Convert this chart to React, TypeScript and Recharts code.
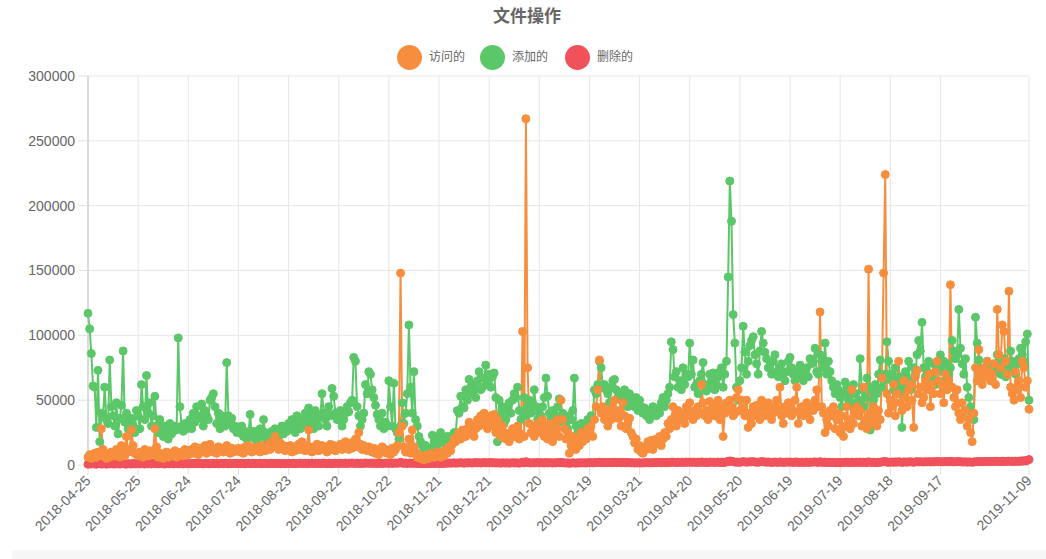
import React from 'react';
import { LineChart, Line, XAxis, YAxis, CartesianGrid } from 'recharts';

// daily series, in thousands, starting 2018-04-25 (one row ~ 30 days)
const visited = [
  6, 8, 5, 7, 9, 6, 10, 8, 28, 12, 7, 5, 8, 6, 10, 9, 7, 12, 8, 6, 15, 9, 7, 22, 10, 12, 27, 15, 9, 8,
  7, 10, 8, 6, 12, 9, 7, 11, 8, 10, 28, 14, 6, 9, 7, 5, 8, 10, 6, 9, 7, 8, 11, 6, 9, 8, 10, 7, 12, 9,
  8, 10, 12, 9, 14, 11, 8, 13, 10, 12, 15, 9, 11, 16, 13, 10, 12, 9, 14, 11, 13, 10, 12, 15, 11, 9, 13, 10, 12, 11,
  13, 10, 12, 9, 14, 11, 15, 12, 10, 13, 11, 14, 12, 10, 15, 13, 11, 14, 16, 12, 18, 15, 22, 14, 12, 17, 13, 15, 11, 14,
  12, 15, 10, 14, 11, 13, 16, 12, 18, 14, 11, 15, 27, 13, 10, 14, 12, 16, 11, 13, 15, 12, 14, 10, 13, 16, 12, 15, 11, 14,
  13, 16, 12, 15, 18, 14, 12, 17, 13, 15, 20, 14, 25, 16, 12, 15, 13, 11, 14, 12, 10, 13, 9, 12, 8, 11, 14, 10, 12, 9,
  11, 8, 13, 10, 12, 15, 25, 148, 30, 14, 10, 12, 20, 9, 27, 14, 10, 6, 8, 5, 7, 4, 6, 8, 5, 7, 9, 6, 8, 10,
  8, 6, 10, 7, 12, 9, 14, 11, 16, 20, 18, 22, 25, 20, 27, 24, 22, 28, 33, 25, 30, 22, 28, 35, 30, 38, 32, 40, 35, 28,
  32, 38, 30, 39, 25, 35, 28, 22, 30, 25, 20, 22, 18, 25, 28, 22, 25, 30, 20, 24, 103, 22, 267, 75, 32, 25, 30, 22, 28, 32,
  28, 25, 35, 22, 30, 20, 25, 32, 18, 24, 28, 35, 22, 50, 35, 28, 20, 25, 9, 15, 22, 18, 12, 20, 15, 25, 18, 22, 20, 28,
  25, 30, 22, 35, 45, 58, 81, 40, 45, 35, 38, 30, 42, 35, 45, 50, 40, 36, 42, 30, 48, 38, 28, 32, 36, 25, 22, 17, 20, 12,
  15, 10, 9, 14, 12, 18, 15, 19, 12, 16, 20, 18, 22, 15, 20, 25, 22, 32, 28, 35, 45, 37, 30, 42, 38, 35, 40, 32, 45, 38,
  48, 40, 35, 42, 38, 45, 40, 62, 48, 38, 42, 35, 49, 40, 45, 38, 42, 50, 35, 45, 22, 40, 48, 42, 50, 45, 38, 40, 52, 58,
  42, 50, 45, 38, 50, 29, 40, 32, 45, 38, 46, 42, 35, 50, 45, 38, 40, 48, 42, 35, 40, 45, 50, 42, 60, 38, 32, 45, 40, 48,
  45, 38, 42, 50, 60, 32, 40, 45, 38, 42, 48, 40, 35, 45, 42, 50, 58, 45, 118, 45, 40, 25, 35, 30, 42, 38, 45, 28, 35, 40,
  25, 38, 22, 30, 45, 35, 28, 58, 32, 40, 45, 38, 42, 30, 60, 35, 28, 151, 40, 32, 45, 38, 30, 42, 35, 67, 148, 224, 55, 40,
  50, 45, 62, 38, 55, 80, 48, 42, 65, 52, 45, 58, 62, 50, 29, 68, 73, 55, 60, 48, 52, 65, 58, 70, 45, 62, 55, 72, 80, 65,
  55, 62, 48, 70, 58, 65, 139, 60, 52, 45, 58, 40, 35, 48, 38, 42, 30, 35, 25, 18, 40, 75, 65, 89, 70, 62, 75, 68, 80, 72,
  65, 70, 78, 62, 120, 85, 75, 108, 103, 80, 70, 134, 60, 55, 50, 72, 58, 65, 52, 80, 75, 60, 65, 43,
];

const added = [
  117, 105, 86, 61, 60, 29, 73, 18, 40, 38, 60, 35, 32, 81, 45, 38, 30, 48, 24, 36, 46, 88, 33, 40, 28, 32, 36, 30, 25, 42,
  38, 28, 62, 45, 35, 69, 40, 48, 30, 38, 53, 30, 25, 35, 28, 22, 30, 26, 20, 32, 24, 28, 30, 27, 98, 45, 30, 26, 32, 28,
  30, 35, 28, 40, 33, 45, 38, 36, 47, 30, 42, 38, 35, 50, 52, 55, 45, 32, 40, 28, 38, 35, 30, 79, 38, 32, 36, 28, 30, 25,
  28, 25, 30, 22, 26, 20, 24, 39, 22, 26, 20, 18, 24, 28, 22, 35, 25, 20, 22, 18, 26, 24, 28, 20, 22, 27, 30, 24, 28, 26,
  32, 28, 35, 30, 25, 38, 33, 28, 35, 30, 40, 36, 44, 32, 38, 28, 42, 35, 30, 38, 55, 40, 35, 30, 45, 38, 59, 53, 40, 35,
  38, 42, 30, 35, 40, 45, 41, 48, 50, 83, 80, 45, 38, 30, 35, 40, 62, 55, 72, 70, 58, 52, 46, 39, 35, 30, 40, 28, 33, 30,
  65, 45, 30, 63, 28, 25, 20, 30, 48, 32, 40, 55, 108, 60, 40, 72, 35, 30, 22, 18, 15, 12, 15, 10, 13, 12, 23, 18, 20, 15,
  22, 25, 18, 20, 15, 22, 20, 22, 18, 25, 24, 42, 40, 53, 45, 44, 58, 50, 66, 60, 55, 62, 52, 65, 72, 58, 60, 67, 77, 62,
  70, 60, 68, 71, 52, 18, 50, 39, 45, 32, 35, 42, 48, 40, 50, 55, 52, 60, 42, 35, 40, 52, 38, 45, 50, 40, 48, 58, 45, 35,
  40, 38, 45, 52, 67, 53, 40, 35, 42, 30, 38, 45, 51, 35, 40, 32, 30, 28, 38, 35, 42, 67, 30, 25, 28, 32, 20, 25, 29, 35,
  30, 38, 35, 58, 55, 62, 80, 75, 60, 62, 58, 55, 48, 60, 65, 66, 58, 52, 55, 50, 48, 58, 52, 45, 55, 50, 48, 45, 52, 42,
  50, 45, 40, 44, 38, 42, 35, 40, 45, 42, 38, 44, 40, 48, 52, 45, 50, 55, 60, 95, 89, 68, 72, 60, 65, 58, 75, 62, 70, 68,
  94, 70, 81, 60, 62, 55, 65, 70, 79, 62, 57, 60, 70, 65, 71, 58, 62, 68, 72, 75, 60, 70, 80, 145, 219, 188, 116, 94, 60, 50,
  65, 75, 107, 87, 70, 80, 92, 96, 99, 85, 78, 70, 88, 103, 94, 87, 82, 75, 77, 70, 80, 85, 72, 68, 75, 78, 70, 65, 72, 80,
  83, 75, 70, 65, 72, 68, 77, 70, 65, 72, 75, 68, 82, 78, 80, 90, 72, 70, 85, 80, 75, 94, 70, 80, 72, 65, 60, 55, 62, 58,
  52, 45, 55, 64, 60, 50, 58, 48, 62, 55, 45, 50, 82, 58, 45, 52, 67, 60, 27, 58, 50, 62, 55, 70, 81, 60, 65, 70, 95, 80,
  70, 65, 58, 75, 62, 55, 68, 29, 60, 72, 65, 80, 58, 66, 75, 70, 85, 96, 88, 110, 75, 68, 72, 80, 65, 70, 78, 62, 75, 80,
  85, 72, 80, 65, 78, 70, 75, 96, 88, 82, 85, 120, 90, 78, 70, 82, 60, 52, 45, 40, 35, 114, 94, 81, 75, 70, 68, 72, 80, 75,
  65, 70, 78, 72, 85, 80, 70, 75, 82, 68, 72, 78, 88, 80, 75, 70, 78, 82, 90, 85, 80, 95, 101, 50,
];

const deleted = [
  0.6, 0.9, 0.7, 1.0, 0.8, 0.6, 0.9, 1.1, 0.7, 0.8, 1.0, 0.6, 0.9, 0.8, 1.2, 0.7, 0.9, 0.8, 1.0, 0.7, 0.9, 1.1, 0.8, 0.6, 1.0, 0.9, 0.7, 1.2, 0.8, 0.9,
  1.0, 0.8, 1.1, 0.9, 0.7, 1.2, 0.9, 1.0, 0.8, 1.3, 0.9, 1.1, 0.8, 1.0, 1.2, 0.9, 0.7, 1.1, 1.0, 0.9, 1.2, 0.8, 1.0, 1.1, 0.9, 1.3, 1.0, 0.8, 1.1, 0.9,
  1.1, 0.9, 1.2, 1.0, 1.3, 0.9, 1.1, 1.0, 1.2, 0.8, 1.1, 1.3, 1.0, 0.9, 1.2, 1.1, 1.0, 1.4, 0.9, 1.1, 1.2, 1.0, 1.3, 1.1, 0.9, 1.2, 1.0, 1.1, 1.3, 1.0,
  1.2, 1.0, 1.3, 1.1, 0.9, 1.2, 1.4, 1.0, 1.1, 1.3, 1.0, 1.2, 1.1, 1.4, 0.9, 1.2, 1.3, 1.0, 1.1, 1.2, 1.4, 1.0, 1.3, 1.1, 1.2, 0.9, 1.3, 1.1, 1.0, 1.2,
  1.3, 1.1, 1.2, 1.4, 1.0, 1.3, 1.2, 1.5, 1.1, 1.2, 1.4, 1.0, 1.3, 1.2, 1.5, 1.1, 1.3, 1.2, 1.4, 1.1, 1.3, 1.5, 1.2, 1.0, 1.4, 1.3, 1.1, 1.2, 1.5, 1.3,
  1.2, 1.4, 1.3, 1.1, 1.5, 1.2, 1.4, 1.3, 1.6, 1.2, 1.3, 1.5, 1.1, 1.4, 1.3, 1.2, 1.6, 1.4, 1.3, 1.5, 1.2, 1.4, 1.3, 1.1, 1.5, 1.4, 1.2, 1.3, 1.6, 1.4,
  1.3, 1.5, 1.2, 1.4, 1.6, 1.3, 1.5, 2.1, 1.4, 1.3, 1.6, 1.2, 1.5, 1.4, 1.3, 1.5, 1.2, 1.4, 1.1, 1.3, 1.2, 1.0, 1.3, 1.1, 1.2, 1.4, 1.1, 1.3, 1.2, 1.4,
  1.3, 1.1, 1.4, 1.2, 1.5, 1.3, 1.6, 1.4, 1.5, 1.7, 1.4, 1.6, 1.5, 1.8, 1.6, 1.4, 1.7, 1.5, 1.8, 1.6, 1.5, 1.7, 1.9, 1.6, 1.8, 1.5, 1.7, 1.9, 1.6, 1.8,
  1.7, 1.9, 1.6, 1.8, 1.5, 1.7, 1.6, 1.4, 1.8, 1.6, 1.5, 1.7, 1.4, 1.6, 1.8, 1.5, 1.7, 1.6, 1.4, 1.7, 2.2, 1.6, 2.6, 1.9, 1.7, 1.5, 1.8, 1.6, 1.7, 1.9,
  1.6, 1.8, 1.7, 1.5, 1.9, 1.6, 1.8, 1.7, 1.5, 1.8, 1.6, 1.9, 1.7, 2.0, 1.8, 1.6, 1.5, 1.7, 1.3, 1.5, 1.7, 1.6, 1.4, 1.7, 1.5, 1.8, 1.6, 1.7, 1.5, 1.8,
  1.7, 1.9, 1.6, 1.8, 2.0, 1.9, 2.2, 1.8, 2.0, 1.7, 1.9, 1.8, 2.0, 1.7, 1.9, 2.1, 1.8, 1.9, 2.0, 1.7, 2.0, 1.8, 1.7, 1.9, 1.8, 1.6, 1.8, 1.5, 1.7, 1.6,
  1.7, 1.5, 1.6, 1.8, 1.7, 1.9, 1.6, 1.8, 1.7, 1.9, 1.8, 2.0, 1.9, 1.7, 2.0, 1.9, 1.8, 2.1, 1.9, 2.2, 2.3, 2.0, 1.9, 2.2, 2.0, 2.1, 2.2, 1.9, 2.3, 2.1,
  2.3, 2.0, 2.2, 2.1, 1.9, 2.2, 2.0, 2.4, 2.1, 2.0, 2.2, 1.9, 2.3, 2.1, 2.2, 2.0, 2.1, 2.3, 1.9, 2.2, 1.8, 2.1, 2.3, 2.8, 3.1, 2.9, 2.5, 2.3, 2.1, 2.2,
  2.1, 2.3, 2.6, 2.4, 2.2, 2.3, 2.5, 2.4, 2.6, 2.3, 2.2, 2.1, 2.4, 2.6, 2.5, 2.3, 2.2, 2.4, 2.1, 2.0, 2.2, 2.3, 2.1, 2.0, 2.4, 2.2, 2.0, 2.1, 2.3, 2.2,
  2.3, 2.1, 2.0, 2.2, 2.4, 1.9, 2.1, 2.2, 2.0, 2.1, 2.3, 2.0, 2.2, 2.1, 2.3, 2.4, 2.2, 2.0, 2.6, 2.1, 2.0, 2.3, 1.9, 2.1, 2.0, 1.9, 2.1, 1.8, 2.0, 1.9,
  1.8, 2.0, 1.9, 2.1, 2.2, 2.0, 1.9, 2.2, 2.0, 2.1, 2.2, 2.0, 2.3, 1.9, 2.2, 2.0, 1.9, 2.5, 2.1, 2.0, 2.2, 2.0, 1.9, 2.1, 2.2, 2.3, 2.6, 2.8, 2.2, 2.1,
  2.2, 2.3, 2.1, 2.4, 2.2, 2.5, 2.3, 2.0, 2.4, 2.3, 2.2, 2.4, 2.5, 2.3, 2.1, 2.4, 2.6, 2.3, 2.5, 2.4, 2.3, 2.5, 2.4, 2.6, 2.3, 2.5, 2.4, 2.6, 2.7, 2.5,
  2.6, 2.4, 2.5, 2.7, 2.5, 2.6, 2.9, 2.5, 2.4, 2.6, 2.5, 2.7, 2.5, 2.4, 2.3, 2.5, 2.2, 2.4, 2.3, 2.1, 2.3, 2.6, 2.5, 2.7, 2.6, 2.5, 2.7, 2.6, 2.8, 2.7,
  2.6, 2.8, 2.7, 2.9, 2.8, 2.7, 2.6, 2.9, 2.8, 2.7, 2.9, 3.0, 2.8, 2.9, 2.7, 3.0, 2.9, 2.8, 3.1, 3.0, 3.2, 3.3, 3.6, 4.2,
];

const xTicks = [
  '2018-04-25', '2018-05-25', '2018-06-24', '2018-07-24', '2018-08-23', '2018-09-22', '2018-10-22',
  '2018-11-21', '2018-12-21', '2019-01-20', '2019-02-19', '2019-03-21', '2019-04-20', '2019-05-20',
  '2019-06-19', '2019-07-19', '2019-08-18', '2019-09-17', '2019-11-09',
];
const yTicks = [0, 50000, 100000, 150000, 200000, 250000, 300000];

const ORANGE = '#F78E3D';
const GREEN = '#5BC768';
const RED = '#F0515B';
const FONT = '"Liberation Sans", Arial, "Noto Sans CJK SC", sans-serif';

const dayLabel = (i: number) => new Date(Date.UTC(2018, 3, 25 + i)).toISOString().slice(0, 10);

const chartData = visited.map((v, i) => ({
  date: dayLabel(i),
  visited: v * 1000,
  added: added[i] * 1000,
  deleted: deleted[i] * 1000,
}));

const legendItems = [
  { name: '访问的', color: ORANGE, cx: 409, tx: 430 },
  { name: '添加的', color: GREEN, cx: 492, tx: 513 },
  { name: '删除的', color: RED, cx: 577, tx: 598 },
];

const DateTick = ({ x, y, payload }: any) => (
  <text
    x={x}
    y={y + 1}
    dy="0.35em"
    textAnchor="end"
    fill="#666"
    fontSize={14}
    fontFamily={FONT}
    transform={`rotate(-45, ${x}, ${y + 1})`}
  >
    {payload.value}
  </text>
);

const App: React.FC = () => {
  return (
    <div style={{ position: 'absolute', left: 0, top: 0, width: 1046, height: 559, background: '#fff', fontFamily: FONT }}>
      <div style={{ position: 'absolute', left: 12, top: 550, width: 1034, height: 9, background: '#f6f6f6' }} />
      <div
        style={{
          position: 'absolute', left: 427, top: 5, width: 200, textAlign: 'center',
          fontSize: 17, fontWeight: 'bold', color: '#666', lineHeight: '24px',
        }}
      >
        文件操作
      </div>
      {legendItems.map((item) => (
        <React.Fragment key={item.name}>
          <div
            style={{
              position: 'absolute', left: item.cx - 12.5, top: 44.5, width: 25, height: 25,
              borderRadius: '50%', background: item.color,
            }}
          />
          <div style={{ position: 'absolute', left: item.tx - 1, top: 49, fontSize: 12, color: '#666', lineHeight: '16px' }}>
            {item.name}
          </div>
        </React.Fragment>
      ))}
      <LineChart width={1046} height={559} data={chartData} margin={{ top: 76, right: 17, left: 0, bottom: 0 }}>
        <CartesianGrid stroke="#e6e6e6" />
        <XAxis
          dataKey="date"
          ticks={xTicks}
          interval={0}
          height={94}
          tick={<DateTick />}
          tickSize={10}
          tickMargin={2}
          tickLine={{ stroke: '#e0e0e0' }}
          axisLine={{ stroke: '#c4c4c4' }}
        />
        <YAxis
          width={88}
          domain={[0, 300000]}
          ticks={yTicks}
          interval={0}
          tickSize={10}
          tickMargin={3}
          tick={{ fill: '#666', fontSize: 14, fontFamily: FONT }}
          tickLine={{ stroke: '#e0e0e0' }}
          axisLine={{ stroke: '#c4c4c4' }}
        />
        <Line
          dataKey="deleted"
          name="删除的"
          type="linear"
          stroke={RED}
          strokeWidth={2.5}
          dot={{ r: 4, fill: RED, stroke: RED, strokeWidth: 1 }}
          activeDot={false}
          isAnimationActive={false}
        />
        <Line
          dataKey="added"
          name="添加的"
          type="linear"
          stroke={GREEN}
          strokeWidth={2}
          dot={{ r: 4, fill: GREEN, stroke: GREEN, strokeWidth: 1 }}
          activeDot={false}
          isAnimationActive={false}
        />
        <Line
          dataKey="visited"
          name="访问的"
          type="linear"
          stroke={ORANGE}
          strokeWidth={2}
          dot={{ r: 4, fill: ORANGE, stroke: ORANGE, strokeWidth: 1 }}
          activeDot={false}
          isAnimationActive={false}
        />
      </LineChart>
    </div>
  );
};

export default App;
